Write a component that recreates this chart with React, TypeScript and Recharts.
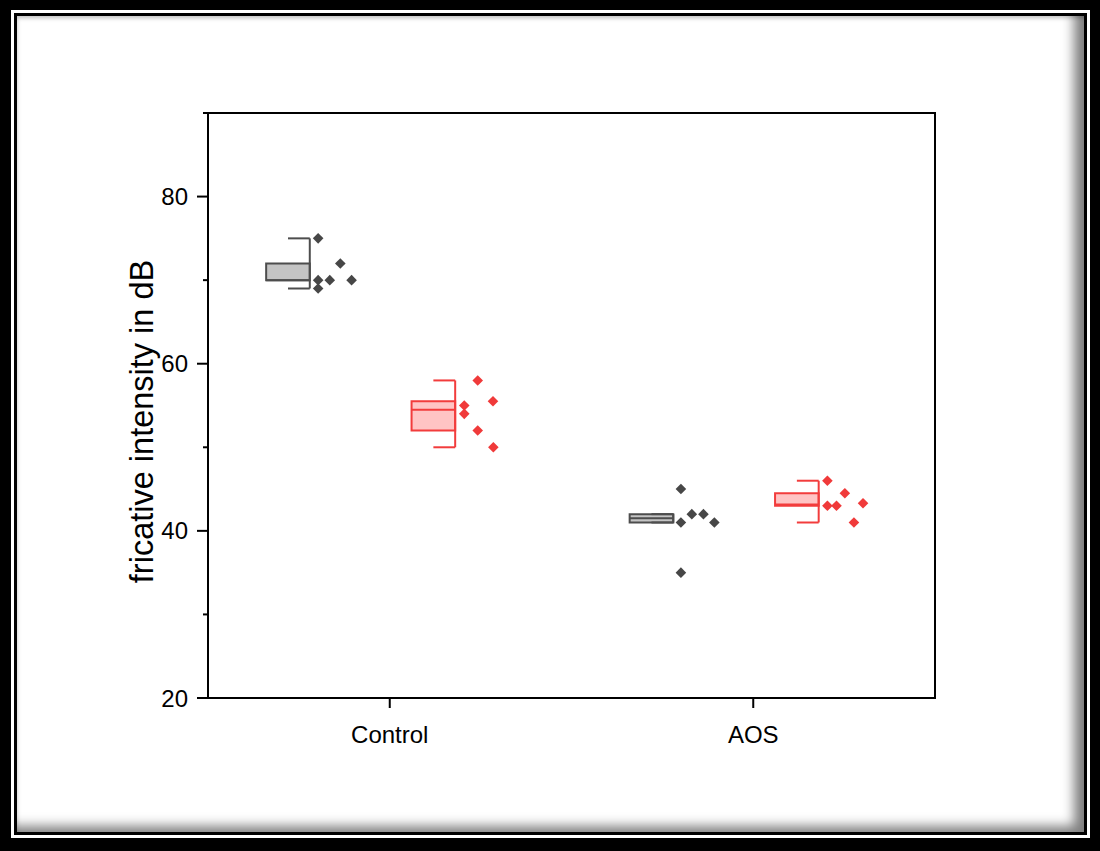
import {
  ComposedChart,
  Scatter,
  XAxis,
  YAxis,
  ReferenceArea,
  ReferenceLine,
} from "recharts";

const CATEGORIES = ["Control", "AOS"];
const Y_TICKS = [20, 30, 40, 50, 60, 70, 80, 90];
const Y_MAJOR = [20, 40, 60, 80];

// fricative intensity (dB), one value per speaker
const GRAY_CONTROL = [75, 72, 70, 70, 70, 69];
const GRAY_AOS = [45, 41, 42, 42, 41, 35];
const RED_CONTROL = [58, 55.5, 55, 54, 52, 50];
const RED_AOS = [46, 44.5, 43, 43, 43.3, 41];

// horizontal spread of the overlapped points (x units, right of the whisker)
const GRAY_CONTROL_JITTER = [0.023, 0.084, 0.023, 0.055, 0.115, 0.023];
const GRAY_AOS_JITTER = [0.021, 0.021, 0.051, 0.083, 0.113, 0.021];
const RED_CONTROL_JITTER = [0.062, 0.104, 0.025, 0.025, 0.062, 0.105];
const RED_AOS_JITTER = [0.024, 0.072, 0.024, 0.049, 0.122, 0.097];

const GRAY = { stroke: "#4d4d4d", fill: "#c4c4c4", point: "#474747" };
const RED = { stroke: "#f23c3c", fill: "#ffc4c4", point: "#f03a3a" };

const FONT = "'Liberation Sans', Arial, Helvetica, sans-serif";
const BOX_W = 0.12;
const CAP_W = 0.06;

function median(s: number[]) {
  const n = s.length;
  return n % 2 ? s[(n - 1) / 2] : (s[n / 2 - 1] + s[n / 2]) / 2;
}

// Tukey hinges + 1.5 IQR whiskers
function boxStats(values: number[]) {
  const s = [...values].sort((a, b) => a - b);
  const half = Math.ceil(s.length / 2);
  const q1 = median(s.slice(0, half));
  const q3 = median(s.slice(s.length - half));
  const iqr = q3 - q1;
  const lo = Math.min(...s.filter((v) => v >= q1 - 1.5 * iqr));
  const hi = Math.max(...s.filter((v) => v <= q3 + 1.5 * iqr));
  return { q1, q3, med: median(s), lo, hi };
}

const GROUPS = [
  { x: 1 - 0.22, values: GRAY_CONTROL, jitter: GRAY_CONTROL_JITTER, color: GRAY },
  { x: 1 + 0.18, values: RED_CONTROL, jitter: RED_CONTROL_JITTER, color: RED },
  { x: 2 - 0.22, values: GRAY_AOS, jitter: GRAY_AOS_JITTER, color: GRAY },
  { x: 2 + 0.18, values: RED_AOS, jitter: RED_AOS_JITTER, color: RED },
].map((g) => ({
  ...g,
  stats: boxStats(g.values),
  points: g.values.map((v, i) => ({ x: g.x + g.jitter[i], y: v })),
}));

const Diamond = (props: any) => {
  const { cx, cy, fill } = props;
  const r = 5.3;
  return (
    <path
      d={`M${cx},${cy - r}L${cx + r},${cy}L${cx},${cy + r}L${cx - r},${cy}Z`}
      fill={fill}
    />
  );
};

const YTick = (props: any) => {
  const { x, y, payload } = props;
  const major = Y_MAJOR.includes(payload.value);
  return (
    <g>
      <line x1={x - (major ? 11 : 5)} x2={x} y1={y} y2={y} stroke="#000" strokeWidth={2} />
      {major && (
        <text x={x - 20} y={y} dy="0.36em" textAnchor="end" fontSize={24} fontFamily={FONT} fill="#000">
          {payload.value}
        </text>
      )}
    </g>
  );
};

const XTick = (props: any) => {
  const { x, y, payload } = props;
  return (
    <g>
      <line x1={x} x2={x} y1={y} y2={y + 10} stroke="#000" strokeWidth={2} />
      <text x={x} y={y + 45} textAnchor="middle" fontSize={24} fontFamily={FONT} fill="#000">
        {CATEGORIES[payload.value - 1]}
      </text>
    </g>
  );
};

const YLabel = (props: any) => {
  const { viewBox } = props;
  const x = viewBox.x + 5;
  const y = viewBox.y + viewBox.height / 2 + 16;
  return (
    <text
      x={x}
      y={y}
      transform={`rotate(-90, ${x}, ${y})`}
      textAnchor="middle"
      fontSize={32.5}
      fontFamily={FONT}
      fill="#000"
    >
      fricative intensity in dB
    </text>
  );
};

export default function App() {
  return (
    <div style={{ position: "relative", width: 1100, height: 851 }}>
      <style>{"body{margin:0}"}</style>
      {/* picture frame */}
      <div
        style={{
          position: "absolute",
          inset: 0,
          background: "#000",
          padding: "10px 10px 13px 11px",
          boxSizing: "border-box",
        }}
      >
        <div
          style={{
            width: "100%",
            height: "100%",
            background: "#fff",
            padding: 3,
            boxSizing: "border-box",
          }}
        >
          <div
            style={{
              width: "100%",
              height: "100%",
              border: "3px solid #000",
              boxSizing: "border-box",
              background: "#fff",
              boxShadow:
                "inset -16px -12px 12px -6px rgba(0,0,0,0.5), inset 2px 4px 4px -2px rgba(0,0,0,0.25)",
            }}
          />
        </div>
      </div>

      <div style={{ position: "absolute", left: 0, top: 0 }}>
        <ComposedChart
          width={1100}
          height={851}
          margin={{ top: 113, right: 165, bottom: 93, left: 148 }}
        >
          <XAxis
            dataKey="x"
            type="number"
            domain={[0.5, 2.5]}
            allowDataOverflow
            ticks={[1, 2]}
            height={60}
            tickSize={0}
            tickMargin={0}
            tick={<XTick />}
            axisLine={{ stroke: "#000", strokeWidth: 2 }}
          />
          <YAxis
            dataKey="y"
            type="number"
            domain={[20, 90]}
            allowDataOverflow
            ticks={Y_TICKS}
            width={60}
            tickSize={0}
            tickMargin={0}
            tick={<YTick />}
            axisLine={{ stroke: "#000", strokeWidth: 2 }}
            label={<YLabel />}
          />
          <ReferenceArea
            x1={0.5}
            x2={2.5}
            y1={20}
            y2={90}
            fill="none"
            stroke="#000"
            strokeWidth={2}
          />
          {GROUPS.map((g, i) => (
            <ReferenceArea
              key={`box-${i}`}
              x1={g.x - BOX_W}
              x2={g.x}
              y1={g.stats.q1}
              y2={g.stats.q3}
              fill={g.color.fill}
              fillOpacity={1}
              stroke={g.color.stroke}
              strokeWidth={2}
            />
          ))}
          {GROUPS.map((g, i) => (
            <ReferenceLine
              key={`med-${i}`}
              segment={[
                { x: g.x - BOX_W, y: g.stats.med },
                { x: g.x, y: g.stats.med },
              ]}
              stroke={g.color.stroke}
              strokeWidth={2}
            />
          ))}
          {GROUPS.map((g, i) => (
            <ReferenceLine
              key={`wh-${i}`}
              segment={[
                { x: g.x, y: g.stats.lo },
                { x: g.x, y: g.stats.hi },
              ]}
              stroke={g.color.stroke}
              strokeWidth={2}
            />
          ))}
          {GROUPS.map((g, i) => (
            <ReferenceLine
              key={`caphi-${i}`}
              segment={[
                { x: g.x - CAP_W, y: g.stats.hi },
                { x: g.x, y: g.stats.hi },
              ]}
              stroke={g.color.stroke}
              strokeWidth={2}
            />
          ))}
          {GROUPS.map((g, i) => (
            <ReferenceLine
              key={`caplo-${i}`}
              segment={[
                { x: g.x - CAP_W, y: g.stats.lo },
                { x: g.x, y: g.stats.lo },
              ]}
              stroke={g.color.stroke}
              strokeWidth={2}
            />
          ))}
          {GROUPS.map((g, i) => (
            <Scatter
              key={`pts-${i}`}
              data={g.points}
              fill={g.color.point}
              shape={<Diamond />}
              isAnimationActive={false}
            />
          ))}
        </ComposedChart>
      </div>
    </div>
  );
}
